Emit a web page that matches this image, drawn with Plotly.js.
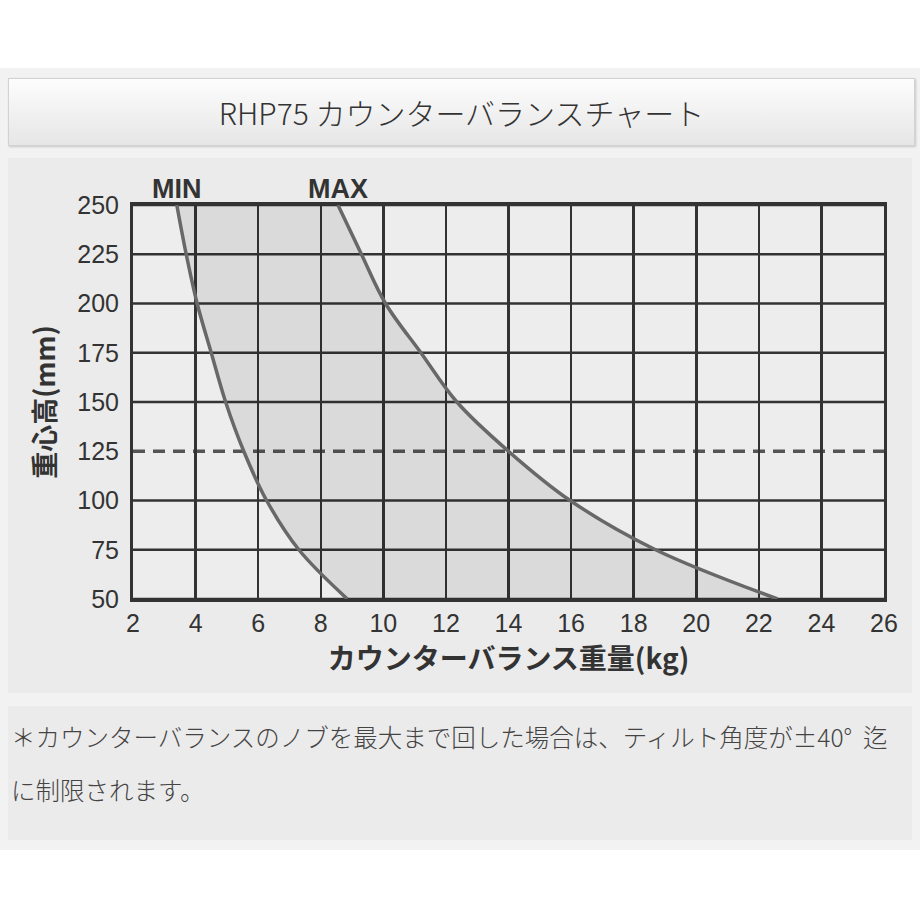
<!DOCTYPE html>
<html>
<head>
<meta charset="utf-8">
<script src="https://cdn.plot.ly/plotly-3.0.1.min.js"></script>
<style>
  html, body { margin: 0; padding: 0; background: #ffffff; }
  body { width: 920px; height: 920px; position: relative; overflow: hidden; }
  #frame { position: absolute; left: 0; top: 68px; width: 920px; height: 782px; background: #f2f2f2; }
  #head {
    position: absolute; left: 8px; top: 78px; width: 905px; height: 66px;
    background: linear-gradient(#fdfdfd, #e6e6e6);
    border: 1px solid #d2d2d2; box-shadow: 1px 1px 2px #c8c8c8;
    font-family: "Noto Sans CJK JP", sans-serif; font-weight: 300;
    font-size: 30px; color: #333; text-align: center; line-height: 66px;
  }
  #chart { position: absolute; left: 8px; top: 158px; width: 904px; height: 535px; }
  #note {
    position: absolute; left: 8px; top: 706px; width: 904px; height: 134px;
    background: #ebebeb; box-sizing: border-box; padding: 4px 0 0 3px;
    font-family: "Noto Sans CJK JP", sans-serif; font-weight: 300;
    font-size: 24.5px; color: #444; line-height: 53px; white-space: nowrap;
  }
</style>
</head>
<body>
<div id="frame"></div>
<div id="head">RHP75 カウンターバランスチャート</div>
<div id="chart"></div>
<div id="note">＊カウンターバランスのノブを最大まで回した場合は、ティルト角度が±40°&nbsp;&nbsp;迄<br>に制限されます。</div>
<script>
// 重心高 (mm) と カウンターバランス重量 (kg)
const heights = [250, 225, 200, 175, 150, 125, 100, 75, 50];
const minWeight = [3.4, 3.7, 4.05, 4.5, 4.96, 5.54, 6.27, 7.3, 8.85];
const maxWeight = [8.55, 9.3, 10.07, 11.2, 12.35, 14.0, 15.97, 18.7, 22.6];

const xTicks = [2, 4, 6, 8, 10, 12, 14, 16, 18, 20, 22, 24, 26];
const yTicks = [50, 75, 100, 125, 150, 175, 200, 225, 250];
const refHeight = 125;

const gridColor = '#333333';
const curveColor = '#686868';

const minLine = {
  x: minWeight, y: heights, mode: 'lines',
  line: {color: curveColor, width: 3.5, shape: 'spline', smoothing: 1}
};

// area between MIN and MAX
const maxLine = {
  x: maxWeight, y: heights, mode: 'lines',
  fill: 'tonextx',
  fillcolor: 'rgba(0,0,0,0.08)',
  line: {color: curveColor, width: 3.5, shape: 'spline', smoothing: 1}
};

// horizontal grid, skipping the dashed reference height
const shapes = yTicks.filter(v => v !== refHeight).map(v => ({
  type: 'line', xref: 'paper', yref: 'y', x0: 0, x1: 1, y0: v, y1: v,
  layer: 'below', line: {color: gridColor, width: 2.5}
}));
shapes.push({
  type: 'line', xref: 'paper', yref: 'y', x0: 0, x1: 1, y0: refHeight, y1: refHeight,
  layer: 'below', line: {color: '#555555', width: 3.5, dash: '12px,8px'}
});

const tickFont = {family: 'Liberation Sans, Arial, sans-serif', size: 25, color: '#333'};
const labelFont = {family: 'Liberation Sans, Arial, sans-serif', size: 27, weight: 'bold', color: '#333'};

const layout = {
  width: 904,
  height: 535,
  margin: {l: 125, r: 28, t: 47, b: 94},
  paper_bgcolor: '#ebebeb',
  plot_bgcolor: '#ededed',
  showlegend: false,
  xaxis: {
    range: [2, 26],
    tickvals: xTicks,
    tickfont: tickFont,
    ticks: '',
    ticklabelstandoff: 0,
    showgrid: true,
    gridcolor: gridColor,
    gridwidth: 2.5,
    zeroline: false,
    showline: true,
    linecolor: gridColor,
    linewidth: 3,
    mirror: true,
    fixedrange: true,
    title: {
      text: 'カウンターバランス重量(kg)',
      standoff: 0,
      font: {family: 'Noto Sans CJK JP', size: 28, weight: 'bold', color: '#333'}
    }
  },
  yaxis: {
    range: [50, 250],
    tickvals: yTicks,
    tickfont: tickFont,
    ticks: '',
    ticklabelstandoff: 6,
    showgrid: false,
    zeroline: false,
    showline: true,
    linecolor: gridColor,
    linewidth: 3,
    mirror: true,
    fixedrange: true,
    title: {
      text: '重心高(mm)',
      standoff: 14,
      font: {family: 'Noto Sans CJK JP', size: 27, weight: 'bold', color: '#333'}
    }
  },
  shapes: shapes,
  annotations: [
    {
      text: 'MIN', x: minWeight[0], y: heights[0], xref: 'x', yref: 'y',
      yanchor: 'bottom', yshift: -1, showarrow: false, font: labelFont
    },
    {
      text: 'MAX', x: maxWeight[0], y: heights[0], xref: 'x', yref: 'y',
      yanchor: 'bottom', yshift: -1, showarrow: false, font: labelFont
    }
  ]
};

Plotly.newPlot('chart', [minLine, maxLine], layout, {displayModeBar: false, staticPlot: true});
</script>
</body>
</html>
